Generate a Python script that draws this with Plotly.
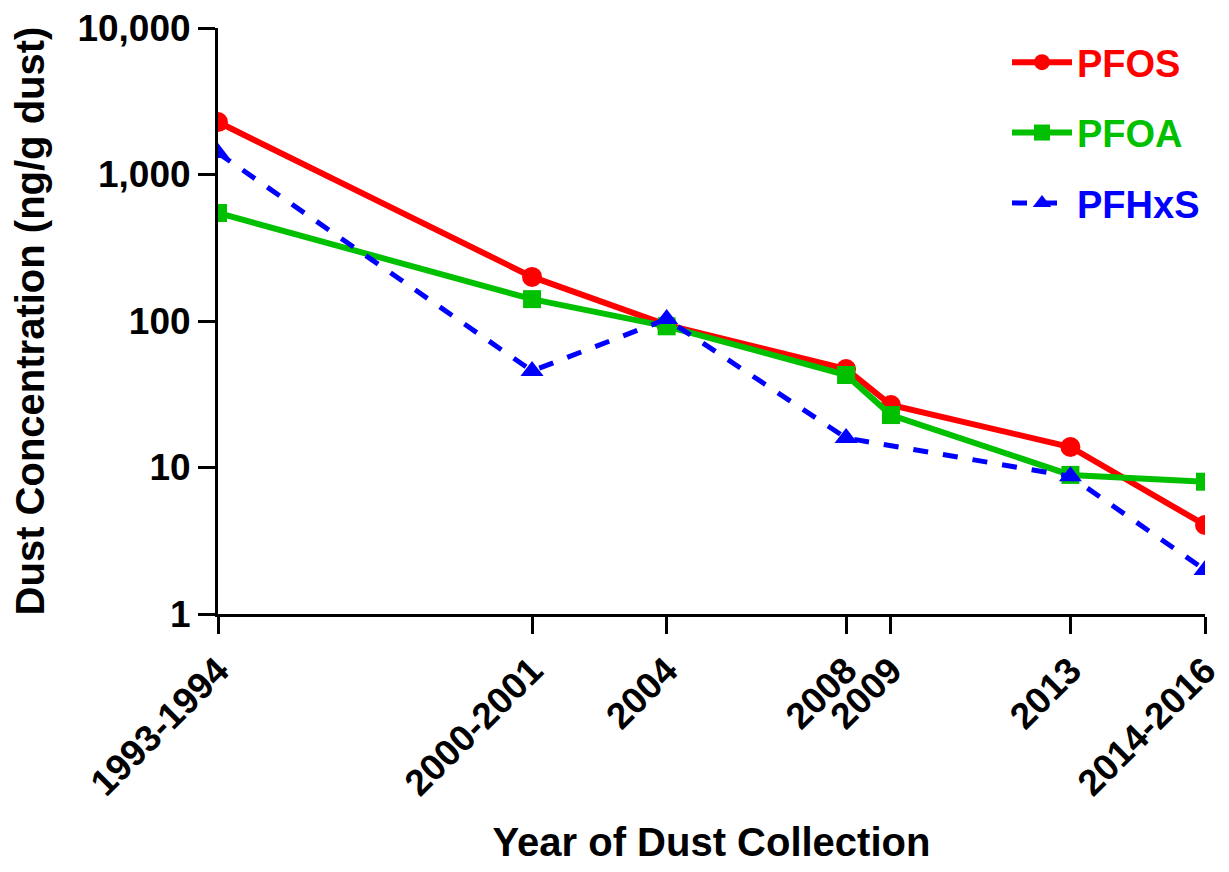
import plotly.graph_objects as go

years = [1994, 2001, 2004, 2008, 2009, 2013, 2016]
tick_labels = ["1993-1994", "2000-2001", "2004", "2008", "2009", "2013", "2014-2016"]
pfos = [2280, 200, 94, 47, 26.7, 13.8, 4.05]
pfoa = [546, 141, 92, 42.8, 22.8, 8.9, 8.0]
pfhxs = [1403, 45.6, 103, 15.9, None, 8.7, 2.0]

FONT = "Arial, Liberation Sans, sans-serif"

fig = go.Figure()
fig.add_trace(go.Scatter(
    x=years, y=pfos, mode="lines+markers", name="<span style='color:#FF0000'>PFOS</span>",
    legendgroup="a",
    line=dict(color="#FF0000", width=6),
    marker=dict(symbol="circle", size=20, color="#FF0000")))
fig.add_trace(go.Scatter(
    x=years, y=pfoa, mode="lines+markers", name="<span style='color:#00C000'>PFOA</span>",
    legendgroup="b",
    line=dict(color="#00C000", width=6),
    marker=dict(symbol="square", size=18, color="#00C000")))
fig.add_trace(go.Scatter(
    x=years, y=pfhxs, mode="lines+markers", name="<span style='color:#0000FF'>PFHxS</span>",
    legendgroup="c", connectgaps=True,
    line=dict(color="#0000FF", width=5, dash="dash"),
    marker=dict(symbol="triangle-up", size=20, color="#0000FF")))

fig.update_layout(
    width=1221, height=864,
    margin=dict(l=210, r=24, t=20, b=258, autoexpand=False),
    plot_bgcolor="white", paper_bgcolor="white",
    font=dict(family=FONT, color="black"),
    legend=dict(x=1.0, y=0.995, xanchor="right", yanchor="top",
                font=dict(size=38, family=FONT, weight="bold"),
                tracegroupgap=18, bgcolor="rgba(0,0,0,0)", itemwidth=60),
    xaxis=dict(
        range=[1994, 2016], tickmode="array", tickvals=years, ticktext=tick_labels,
        tickangle=-45, showgrid=False, zeroline=False, automargin=False,
        ticklabeloverflow="allow",
        showline=True, linecolor="black", linewidth=3,
        ticks="outside", ticklen=17, tickwidth=3, tickcolor="black",
        tickfont=dict(size=37, family=FONT, weight="bold", color="black"),
        title=dict(text="Year of Dust Collection", standoff=26,
                   font=dict(size=40, family=FONT, weight="bold", color="black")),
    ),
    yaxis=dict(
        type="log", range=[0, 4], tickmode="array",
        tickvals=[1, 10, 100, 1000, 10000], ticktext=["1", "10", "100", "1,000", "10,000"],
        showgrid=False, zeroline=False, automargin=False,
        ticklabeloverflow="allow",
        showline=True, linecolor="black", linewidth=3,
        ticks="outside", ticklen=17, tickwidth=3, tickcolor="black",
        tickfont=dict(size=37, family=FONT, weight="bold", color="black"),
        title=dict(text="Dust Concentration (ng/g dust)", standoff=26,
                   font=dict(size=40, family=FONT, weight="bold", color="black")),
    ),
)

fig.write_html("out.html")
